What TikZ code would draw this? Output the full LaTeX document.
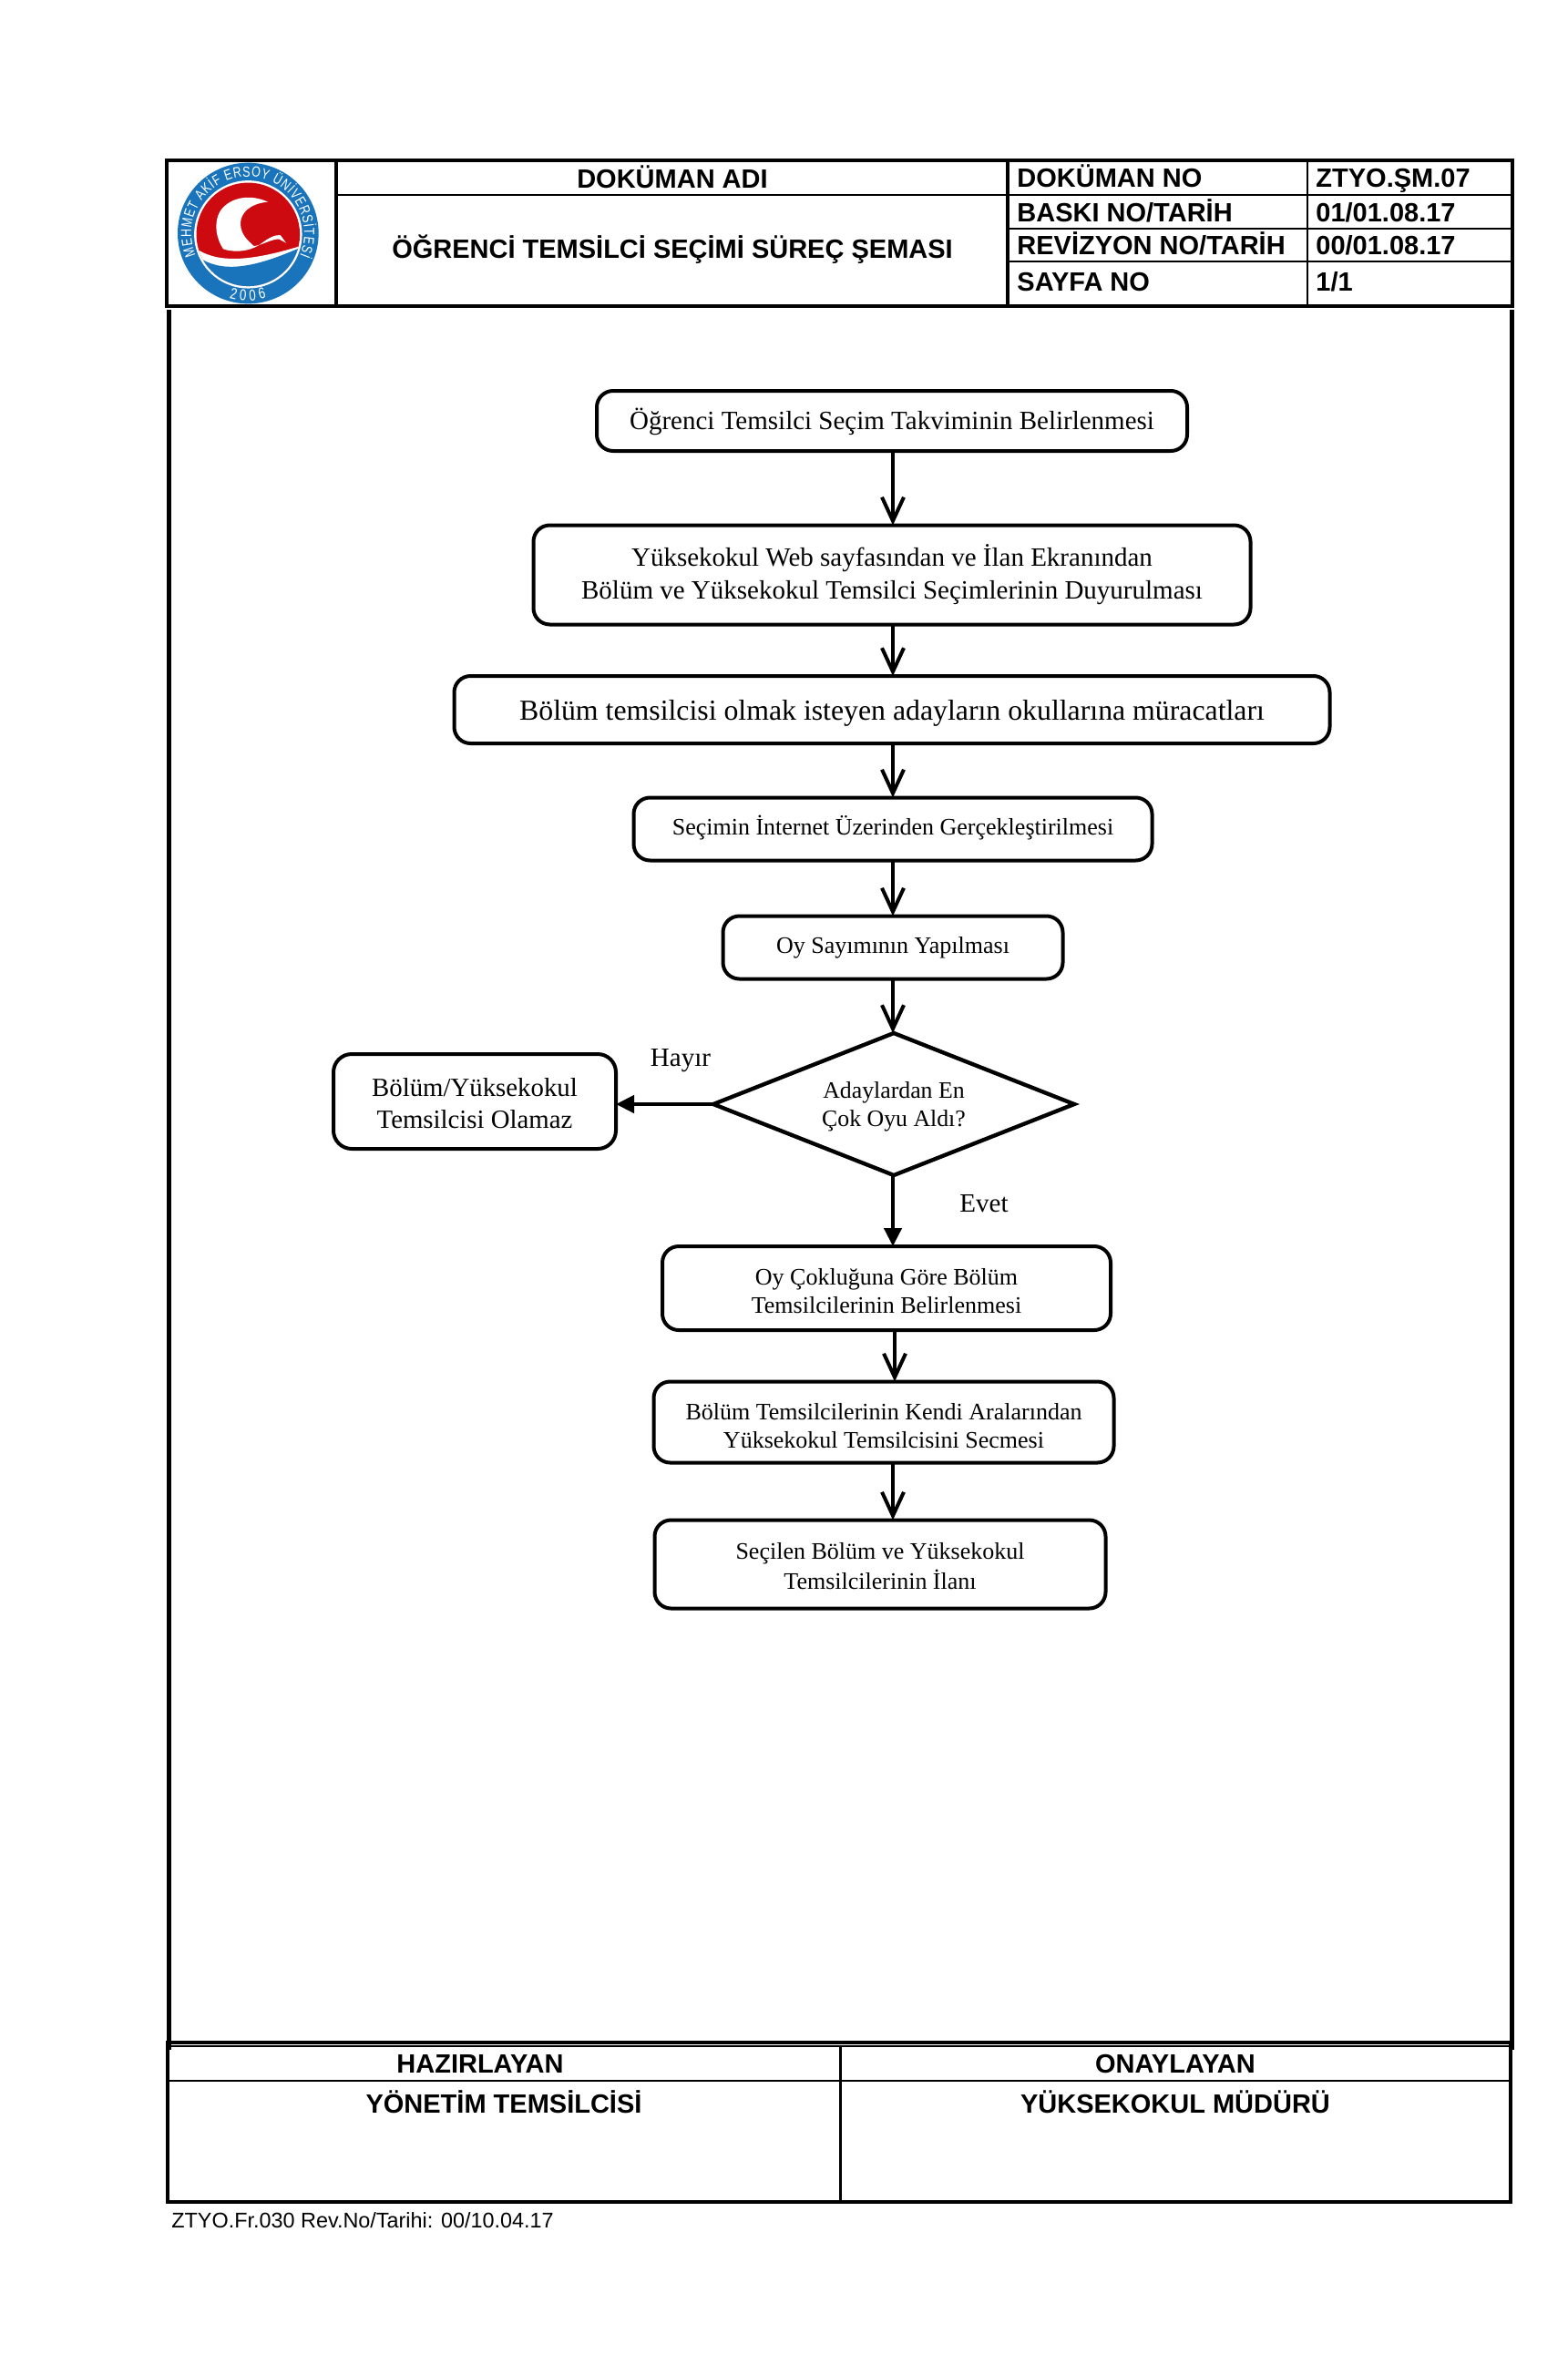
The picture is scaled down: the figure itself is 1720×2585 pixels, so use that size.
\documentclass[tikz,border=0pt]{standalone}
\usepackage{fontspec}
\setmainfont{Liberation Serif}
\setsansfont{Liberation Sans}
\newfontfamily\logofont[FakeStretch=0.78]{Liberation Sans}
\usetikzlibrary{arrows.meta,shapes.geometric,decorations.text}
\definecolor{logoblue}{HTML}{1A74BC}
\definecolor{logored}{HTML}{CC0A0F}
% text block lowered by #1 without changing the size the node sees
\newcommand{\lowered}[2]{\raisebox{-#1}[\height][\depth]{\begin{tabular}{@{}c@{}}#2\end{tabular}}}
\tikzset{
  wh/.style 2 args={minimum width=#1*0.5pt,minimum height=#2*0.5pt},
  flowbox/.style={draw,line width=2pt,rounded corners=9pt,inner sep=0pt,outer sep=0pt},
  decision/.style={draw,diamond,aspect=2.54,line width=2.2pt,inner sep=0pt,outer sep=0pt},
  openarrow/.style={line width=2pt,-{Straight Barb[length=13pt,width=12pt,line width=2pt]}},
  fillarrow/.style={line width=2.2pt,-{Triangle[length=10pt,width=9.5pt]}},
  heavy/.style={line width=2.2pt,line cap=rect},
  thin rule/.style={line width=1pt},
  hdr/.style={inner sep=0pt,font=\sffamily\bfseries\fontsize{14.5}{16}\selectfont},
  cell/.style={hdr,anchor=base west},
  lbl/.style={inner sep=0pt,font=\fontsize{14.5}{16}\selectfont},
  txta/.style={font=\fontsize{14.5}{18}\selectfont},
  txtb/.style={font=\fontsize{13}{15.5}\selectfont},
}
\begin{document}
\begin{tikzpicture}[x=0.5pt,y=-0.5pt]
\useasboundingbox[fill=white] (0,0) rectangle (1720,2585);
% header frame
\draw[heavy] (183,176) rectangle (1660,336);
\draw[heavy] (369,176) -- (369,336);
\draw[heavy] (1106,176) -- (1106,336);
\draw[thin rule] (369,214) -- (1106,214);
\draw[thin rule] (1106,214) -- (1660,214);
\draw[thin rule] (1106,251) -- (1660,251);
\draw[thin rule] (1106,287) -- (1660,287);
\draw[thin rule] (1435,176) -- (1435,336);
% main frame
\draw[line width=2.5pt] (185,340) -- (185,2250);
\draw[line width=2.5pt] (1659,340) -- (1659,2250);
% bottom frame
\draw[heavy] (184,2242) -- (1658,2242);
\draw[thin rule] (184,2246) -- (1658,2246);
\draw[thin rule] (184,2284) -- (1658,2284);
\draw[heavy] (184,2246) -- (184,2417) -- (1658,2417) -- (1658,2246);
\draw[line width=1.5pt] (922,2246) -- (922,2417);
% logo
\begin{scope}[shift={(170,160)},x=0.16667pt,y=-0.16667pt]
  \fill[logoblue] (307,288) circle[radius=38.67pt];
  \fill[white] (307,292) circle[radius=29.6pt];
  \begin{scope}
    \clip (307,292) circle[radius=28.4pt];
    \fill[logored] (100,100) rectangle (520,500);
    \fill[white] (372,185) .. controls (320,160) and (250,165) .. (215,215)
       .. controls (190,260) and (205,310) .. (225,340)
       .. controls (270,355) and (320,345) .. (350,322)
       .. controls (375,303) and (395,293) .. (413,294)
       -- (432,320) -- (410,308)
       .. controls (385,305) and (350,330) .. (325,330)
       .. controls (305,310) and (285,295) .. (282,260)
       .. controls (280,220) and (315,190) .. cycle;
    \fill[white] (130,335) .. controls (200,385) and (300,385) .. (480,330)
       -- (480,500) -- (130,500) -- cycle;
    \fill[logoblue] (140,365) .. controls (220,420) and (320,405) .. (480,335)
       -- (480,500) -- (130,500) -- cycle;
  \end{scope}
\end{scope}
\begin{scope}[shift={(272,256)},x=0.5pt,y=0.5pt]
  \path[decorate,decoration={text along path,text color=white,text align={fit to path},
     text={|\logofont\fontsize{8}{9}\selectfont|MEHMET AKİF ERSOY ÜNİVERSİTESİ}}]
     (203:62) arc[start angle=203,end angle=-23,radius=62];
  \path[decorate,decoration={text along path,text color=white,text align={fit to path},
     text={|\logofont\fontsize{8.5}{9}\selectfont|2006}}]
     (254:74) arc[start angle=254,end angle=286,radius=74];
\end{scope}
% header texts
\node[hdr] (docname) at (738,194) {DOKÜMAN ADI};
\node[hdr] (doctitle) at (738,274) {ÖĞRENCİ TEMSİLCİ SEÇİMİ SÜREÇ ŞEMASI};
\node[cell] (k1) at (1116,205) {DOKÜMAN NO};
\node[cell] (k2) at (1116,243) {BASKI NO/TARİH};
\node[cell] (k3) at (1116,279) {REVİZYON NO/TARİH};
\node[cell] (k4) at (1116,319) {SAYFA NO};
\node[cell] (v1) at (1444,205) {ZTYO.ŞM.07};
\node[cell] (v2) at (1444,243) {01/01.08.17};
\node[cell] (v3) at (1444,279) {00/01.08.17};
\node[cell] (v4) at (1444,319) {1/1};
% flow
\coordinate (trunk) at (980,0);
\node[flowbox,wh={648}{66},txta] (b1) at (979,462) {\lowered{1pt}{Öğrenci Temsilci Seçim Takviminin Belirlenmesi}};
\node[flowbox,wh={787}{109},txta] (b2) at (979,631) {\lowered{0.8pt}{Yüksekokul Web sayfasından ve İlan Ekranından\\Bölüm ve Yüksekokul Temsilci Seçimlerinin Duyurulması}};
\node[flowbox,wh={961}{74},font=\fontsize{15.9}{20}\selectfont] (b3) at (979,779) {\lowered{1.5pt}{Bölüm temsilcisi olmak isteyen adayların okullarına müracatları}};
\node[flowbox,wh={569}{69},txtb] (b4) at (980,910) {\lowered{0pt}{Seçimin İnternet Üzerinden Gerçekleştirilmesi}};
\node[flowbox,wh={373}{69},txtb] (b5) at (980,1040) {\lowered{0pt}{Oy Sayımının Yapılması}};
\node[decision,wh={396}{156},font=\fontsize{12.9}{15.5}\selectfont] (d1) at (981,1212) {\lowered{1.5pt}{Adaylardan En\\Çok Oyu Aldı?}};
\node[flowbox,wh={310}{104},rounded corners=10pt,font=\fontsize{14.4}{17.5}\selectfont] (no) at (521,1209) {\lowered{2.5pt}{Bölüm/Yüksekokul\\Temsilcisi Olamaz}};
\node[flowbox,wh={492}{92},txtb] (b6) at (973,1414) {\lowered{3pt}{Oy Çokluğuna Göre Bölüm\\Temsilcilerinin Belirlenmesi}};
\node[flowbox,wh={505}{89},txtb] (b7) at (970,1561) {\lowered{3.5pt}{Bölüm Temsilcilerinin Kendi Aralarından\\Yüksekokul Temsilcisini Secmesi}};
\node[flowbox,wh={495}{97},font=\fontsize{13}{16.5}\selectfont] (b8) at (966,1717) {\lowered{2pt}{Seçilen Bölüm ve Yüksekokul\\Temsilcilerinin İlanı}};
\node[lbl] (hayir) at (747,1164) {Hayır};
\node[lbl] (evet) at (1080,1321) {Evet};
\draw[openarrow] (b1.south -| trunk) -- (b2.north -| trunk);
\draw[openarrow] (b2.south -| trunk) -- (b3.north -| trunk);
\draw[openarrow] (b3.south -| trunk) -- (b4.north -| trunk);
\draw[openarrow] (b4.south -| trunk) -- (b5.north -| trunk);
\draw[openarrow] (b5.south -| trunk) -- (d1.north -| trunk);
\draw[fillarrow] (d1.west) -- (no.east |- d1.west);
\draw[fillarrow] (d1.south -| trunk) -- (b6.north -| trunk);
\coordinate (trunkb) at (982,0);
\draw[openarrow] (b6.south -| trunkb) -- (b7.north -| trunkb);
\draw[openarrow] (b7.south -| trunk) -- (b8.north -| trunk);
% bottom texts
\node[hdr] (prep) at (527,2265) {HAZIRLAYAN};
\node[hdr] (appr) at (1290,2265) {ONAYLAYAN};
\node[hdr] (prepn) at (553,2307) {YÖNETİM TEMSİLCİSİ};
\node[hdr] (apprn) at (1290,2307) {YÜKSEKOKUL MÜDÜRÜ};
\node[inner sep=0pt,anchor=west,font=\sffamily\fontsize{11.7}{14}\selectfont] (foot) at (188,2437) {ZTYO.Fr.030 Rev.No/Tarihi: 00/10.04.17};
\end{tikzpicture}
\end{document}
